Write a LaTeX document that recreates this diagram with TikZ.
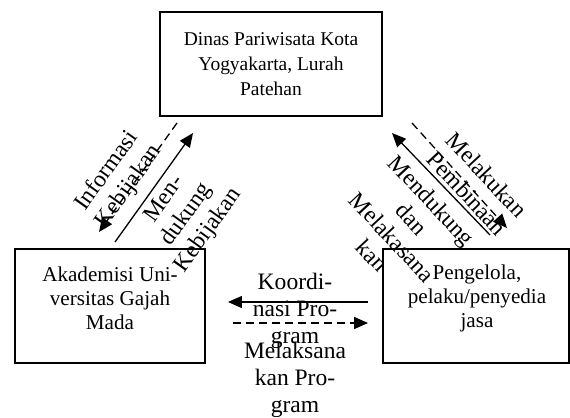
\documentclass[tikz,border=0pt]{standalone}
\usepackage{fontspec}
\setmainfont{Liberation Serif}
\usetikzlibrary{arrows.meta}
\def\u{0.6157pt}
\tikzset{
  box/.style={draw, line width=1.2pt, inner sep=0pt},
  txt/.style={align=center, inner sep=0pt, font=\fontsize{12pt}{15.2pt}\selectfont},
  boxtxt/.style={align=center, inner sep=0pt, font=\fontsize{13pt}{14.8pt}\selectfont},
  lbl/.style={align=center, inner sep=0pt, font=\fontsize{14.5pt}{16.6pt}\selectfont},
  conn/.style={line width=0.8pt, -{Triangle[length=8.6pt, width=7.4pt]}},
  dashconn/.style={conn, dash pattern=on 5pt off 3pt},
}
\begin{document}
\begin{tikzpicture}[x=0.6157pt, y=-0.6157pt]
\useasboundingbox (0,0) rectangle (570,417);
% boxes
\node[box, txt, minimum width=222*\u, minimum height=104*\u] (dinas) at (271,64) {Dinas Pariwisata Kota\\Yogyakarta, Lurah\\Patehan};
\node[box, minimum width=190*\u, minimum height=114*\u] (akad) at (110,306) {};
\node[boxtxt] (akadtxt) at (110,298) {Akademisi Uni-\\versitas Gajah\\Mada};
\node[box, minimum width=186*\u, minimum height=114*\u] (peng) at (476,306) {};
\node[boxtxt] (pengtxt) at (477,298) {Pengelola,\\pelaku/penyedia\\jasa};
% connector end points
\coordinate (l1s) at (177,123); \coordinate (l1e) at (99,232);
\coordinate (l2s) at (115,242); \coordinate (l2e) at (193,133);
\coordinate (r1s) at (412,123); \coordinate (r1e) at (507,228);
\coordinate (r2s) at (490,235); \coordinate (r2e) at (392,133);
\coordinate (b1s) at (368,302); \coordinate (b1e) at (228,302);
\coordinate (b2s) at (233,323); \coordinate (b2e) at (368,323);
% connectors
\draw[dashconn] (l1s) -- (l1e);
\draw[conn] (l2s) -- (l2e);
\draw[dashconn] (r1s) -- (r1e);
\draw[conn] (r2s) -- (r2e);
\draw[conn] (b1s) -- (b1e);
\draw[dashconn] (b2s) -- (b2e);
% labels
\node[lbl, rotate=54.4] (lab1) at (118,179) {Informasi\\Kebijakan};
\node[lbl, rotate=54.4] (lab2) at (187,215) {Men-\\dukung\\Kebijakan};
\node[lbl, rotate=-47] (lab3) at (477,184) {Melakukan\\Pembinaan};
\node[lbl, rotate=-47] (lab4) at (402,228) {Mendukung\\dan\\Melakasana\\kan};
\node[lbl] (lab5) at (295,311) {Koordi-\\nasi Pro-\\gram};
\node[lbl] (lab6) at (295,380) {Melaksana\\kan Pro-\\gram};
\end{tikzpicture}
\end{document}
